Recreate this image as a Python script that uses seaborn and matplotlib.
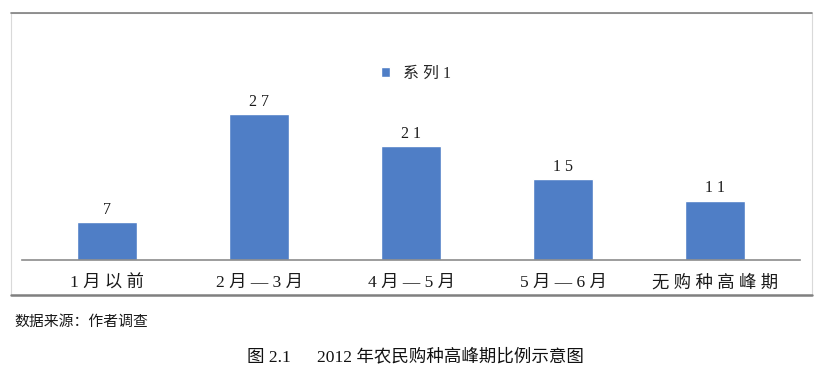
import pandas as pd
import seaborn as sns
import matplotlib.pyplot as plt
from matplotlib.patches import Rectangle
from matplotlib.lines import Line2D

# data
periods = ['1月以前', '2月—3月', '4月—5月', '5月—6月', '无购种高峰期']
counts = [7, 27, 21, 15, 11]
series_name = '系列1'


def spaced(s, gap=' '):
    # the original chart uses wide letter spacing
    return gap.join(list(s))


df = pd.DataFrame({'period': periods, 'count': counts, 'series': spaced(series_name)})

sns.set_theme(style='white')
plt.rcParams['font.family'] = ['Liberation Serif', 'Noto Sans CJK SC', 'DejaVu Sans']

W, H = 826, 382
fig = plt.figure(figsize=(W / 100, H / 100), dpi=100)

# axes placed in pixel coordinates
left, right, top, bottom = 22, 800, 40, 260
ax = fig.add_axes([left / W, 1 - bottom / H, (right - left) / W, (bottom - top) / H])

sns.barplot(data=df, x='period', y='count', hue='series', palette=['#4F7EC6'],
            saturation=1, width=0.39, ax=ax, legend=True)

ax.set_xlim(-0.56, 4.56)
ax.set_ylim(0, 220 / 5.407)
ax.set_xlabel('')
ax.set_ylabel('')
ax.set_yticks([])
ax.set_xticks(range(len(periods)))
ax.set_xticklabels([spaced(p) for p in periods])
ax.tick_params(axis='x', length=0, pad=11, labelsize=12.5, colors='#1a1a1a')
for s in ['top', 'left', 'right']:
    ax.spines[s].set_visible(False)
ax.spines['bottom'].set_color('#8c8c8c')
ax.spines['bottom'].set_linewidth(1.2)

for c in ax.containers:
    ax.bar_label(c, labels=[spaced(str(v)) for v in counts], padding=3, fontsize=11.5,
                 color='#1a1a1a')

leg = ax.legend(loc='center', bbox_to_anchor=((416 - left) / (right - left), (bottom - 74) / (bottom - top)),
                frameon=False, fontsize=11.5, handlelength=0.6, handleheight=0.6,
                handletextpad=0.8)

# outer frame of the chart
fig.patches.append(Rectangle((11 / W, 1 - 295 / H), (812 - 11) / W, (295 - 13) / H,
                             transform=fig.transFigure, fill=False,
                             edgecolor='#d9d9d9', linewidth=0.8))
fig.lines.append(Line2D([11 / W, 812 / W], [1 - 13 / H] * 2, transform=fig.transFigure,
                        color='#808080', linewidth=1.2))
fig.lines.append(Line2D([11 / W, 812 / W], [1 - 295 / H] * 2, transform=fig.transFigure,
                        color='#808080', linewidth=1.8))

fig.text(14 / W, 1 - 322 / H, '数据来源：作者调查', fontsize=10.7, va='center', ha='left',
         color='#1a1a1a')
fig.text(415 / W, 1 - 357 / H, '图 2.1      2012 年农民购种高峰期比例示意图', fontsize=12.6,
         va='center', ha='center', color='#111111')

fig.savefig('out.png', dpi=100)
